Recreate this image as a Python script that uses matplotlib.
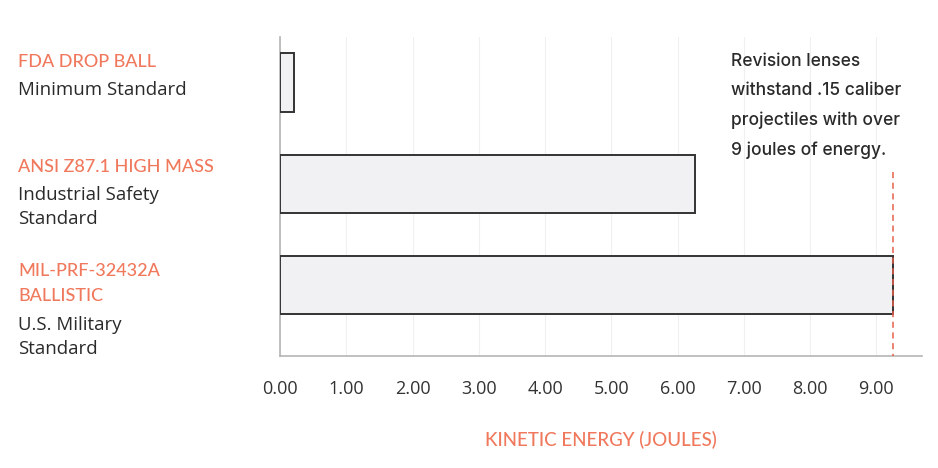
import matplotlib
matplotlib.use("Agg")
import matplotlib.pyplot as plt

plt.rcParams["font.family"] = ["Lato", "DejaVu Sans"]

# data
standards = ["FDA DROP BALL", "ANSI Z87.1 HIGH MASS", "MIL-PRF-32432A\nBALLISTIC"]
subtitles = ["Minimum Standard", "Industrial Safety\nStandard", "U.S. Military\nStandard"]
energy = [0.21, 6.27, 9.25]
revision_level = 9.25
xticks = [0, 1, 2, 3, 4, 5, 6, 7, 8, 9]
note = "Revision lenses\nwithstand .15 caliber\nprojectiles with over\n9 joules of energy."

ORANGE = "#f0785c"
DARK = "#2a2a2a"

fig = plt.figure(figsize=(9.38, 4.68), dpi=100)
ax = fig.add_axes([280 / 938, 1 - 356 / 468, (922 - 280) / 938, (356 - 37) / 468])

y = list(range(len(energy)))
ax.barh(y, energy, height=0.575, color="#f1f1f3", edgecolor="#333333", lw=1.4, zorder=3)
ax.set_ylim(2.70, -0.45)
ax.set_xlim(0, 9.69)

ax.set_xticks(xticks)
ax.set_xticklabels([f"{v:.2f}" for v in xticks], fontsize=13, color="#333333",
                   family=["Open Sans", "DejaVu Sans"])
ax.tick_params(axis="x", length=0, pad=17)
ax.set_yticks([])
ax.grid(axis="x", color="#f0f0f0", lw=0.8, zorder=0)
ax.grid(axis="y", visible=False)
for s in ["top", "right"]:
    ax.spines[s].set_visible(False)
for s in ["left", "bottom"]:
    ax.spines[s].set_color("#b5b5b5")
    ax.spines[s].set_linewidth(1.2)

ax.set_xlabel("KINETIC ENERGY (JOULES)", color=ORANGE, fontsize=13.5, labelpad=24,
              fontweight=500)

# dashed marker for the revision lens level
ax.plot([revision_level, revision_level], [0.88, 2.70], ls=(0, (4, 3)), color="#e8604c",
        lw=1.1, zorder=4, clip_on=False)

ax.text(6.8, -0.29, note, fontsize=12.5, color=DARK, va="top", ha="left", linespacing=1.91,
        family=["Inter", "DejaVu Sans"], fontweight=500)

# left labels
tops = [54, 159, 263]
for t, s, yt in zip(standards, subtitles, tops):
    nl = t.count("\n") + 1
    fig.text(18 / 938, 1 - yt / 468, t, color=ORANGE, fontsize=13, va="top", ha="left",
             linespacing=1.7, fontweight=500)
    fig.text(18 / 938, 1 - (yt + 26 * nl + 1) / 468, s, color=DARK, fontsize=13.4, va="top",
             ha="left", linespacing=1.46, family=["Open Sans", "DejaVu Sans"])

fig.savefig("out.png", dpi=100)
